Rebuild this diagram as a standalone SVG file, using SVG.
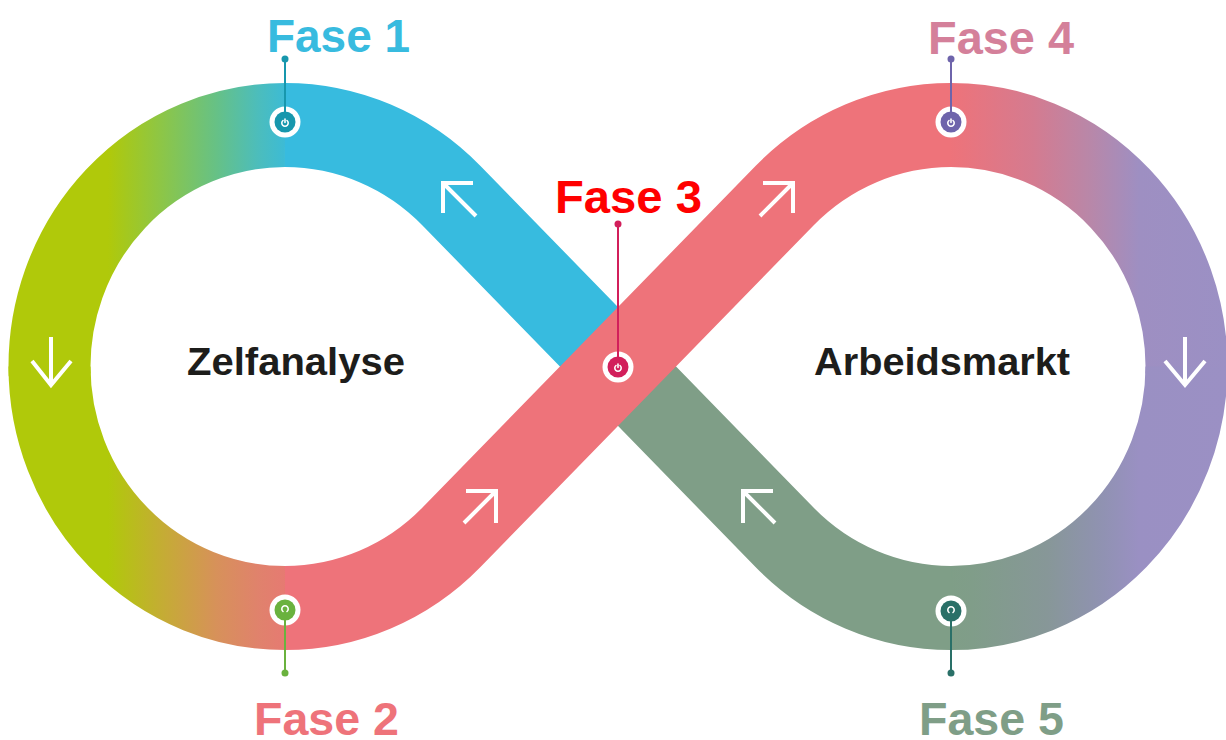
<svg xmlns="http://www.w3.org/2000/svg" width="1226" height="740" viewBox="0 0 1226 740">
<defs>
<style>
.band{fill:none;stroke-width:82;stroke-linecap:butt}
.arr{fill:none;stroke:#fff;stroke-width:4;stroke-linecap:butt;stroke-linejoin:miter}
.lbl{font-family:"Liberation Sans",Arial,sans-serif;font-weight:bold;font-size:47px}
.ctr{font-family:"Liberation Sans",Arial,sans-serif;font-weight:bold;font-size:38px;fill:#1d1d1b}
.ring{fill:#fff}
.ico{fill:none;stroke:#fff;stroke-width:1.6;stroke-linecap:round}
</style>
<linearGradient id="gTL" gradientUnits="userSpaceOnUse" x1="8" y1="0" x2="286" y2="0">
<stop offset="0" stop-color="#b0c90a"/>
<stop offset="0.36" stop-color="#b0c90a"/>
<stop offset="0.55" stop-color="#8dc646"/>
<stop offset="0.75" stop-color="#66c186"/>
<stop offset="0.9" stop-color="#4cbdbc"/>
<stop offset="1" stop-color="#3cbbd6"/>
</linearGradient>
<linearGradient id="gBL" gradientUnits="userSpaceOnUse" x1="8" y1="0" x2="286" y2="0">
<stop offset="0" stop-color="#b0c90a"/>
<stop offset="0.36" stop-color="#b0c90a"/>
<stop offset="0.55" stop-color="#c4ad33"/>
<stop offset="0.75" stop-color="#d7915a"/>
<stop offset="0.9" stop-color="#e0826c"/>
<stop offset="1" stop-color="#e67a72"/>
</linearGradient>
<linearGradient id="gTR" gradientUnits="userSpaceOnUse" x1="950" y1="0" x2="1228" y2="0">
<stop offset="0" stop-color="#ee737a"/>
<stop offset="0.05" stop-color="#ea747d"/>
<stop offset="0.3" stop-color="#d47b90"/>
<stop offset="0.5" stop-color="#b987a8"/>
<stop offset="0.68" stop-color="#9e8fc2"/>
<stop offset="1" stop-color="#9b90c4"/>
</linearGradient>
<linearGradient id="gBR" gradientUnits="userSpaceOnUse" x1="950" y1="0" x2="1228" y2="0">
<stop offset="0" stop-color="#7f9e87"/>
<stop offset="0.08" stop-color="#809d89"/>
<stop offset="0.35" stop-color="#879798"/>
<stop offset="0.55" stop-color="#9092b2"/>
<stop offset="0.68" stop-color="#9a90c3"/>
<stop offset="1" stop-color="#9b90c4"/>
</linearGradient>
</defs>
<rect width="1226" height="740" fill="#fff"/>
<g id="connectors" transform="matrix(1 0 0 1.0255 0 -9.35)">
<path class="band" stroke="url(#gTL)" d="M285,131 A235.5,235.5 0 0 0 49.64,374.7"/>
<path class="band" stroke="url(#gBL)" d="M49.5,366.5 A235.5,235.5 0 0 0 285,602"/>
<path class="band" stroke="url(#gTR)" d="M951,131 A235.5,235.5 0 0 1 1186.36,374.7"/>
<path class="band" stroke="url(#gBR)" d="M1186.5,366.5 A235.5,235.5 0 0 1 951,602"/>
<path class="band" stroke="#37bbdf" d="M285,131 A235.5,235.5 0 0 1 451.5,200 L624,372.5"/>
<path class="band" stroke="#7f9e87" d="M951,602 A235.5,235.5 0 0 1 784.5,533 L612,360.5"/>
<path class="band" stroke="#ee737a" d="M285,602 A235.5,235.5 0 0 0 451.5,533 L784.5,200 A235.5,235.5 0 0 1 951,131"/>
</g>
<g id="arrows">
<path class="arr" d="M443,213 L443,183 L473,183 M443,183 L476,216"/>
<path class="arr" d="M793,213 L793,183 L763,183 M793,183 L760,216"/>
<path class="arr" d="M466,491 L496,491 L496,523 M496,491 L464,523"/>
<path class="arr" d="M773,491 L743,491 L743,523 M743,491 L775,523"/>
<path class="arr" d="M51,337 L51,385 M32,361 L51,385 L71,361"/>
<path class="arr" d="M1185,337 L1185,385 M1165,361 L1185,385 L1205,361"/>
</g>
<g id="fase1">
<circle class="ring" cx="285" cy="122" r="15.5"/>
<circle cx="285" cy="122" r="10.5" fill="#1797ad"/>
<line x1="285" y1="59" x2="285" y2="112" stroke="#1797ad" stroke-width="2"/>
<circle cx="285" cy="59" r="3.5" fill="#1797ad"/>
<path class="ico" d="M283,120.5 A3.2,3.2 0 1 0 287,120.5 M285,119 L285,122.5"/>
<text class="lbl" x="267" y="52" fill="#38bbdf" textLength="143" lengthAdjust="spacingAndGlyphs">Fase 1</text>
</g>
<g id="fase2">
<circle class="ring" cx="285" cy="610" r="15.5"/>
<circle cx="285" cy="610" r="10.5" fill="#6ab23e"/>
<line x1="285" y1="620" x2="285" y2="673" stroke="#6ab23e" stroke-width="2"/>
<circle cx="285" cy="673" r="3.5" fill="#6ab23e"/>
<path class="ico" d="M283,611.5 A3.2,3.2 0 1 1 287,611.5"/>
<text class="lbl" x="254" y="735" fill="#ee737a" textLength="145" lengthAdjust="spacingAndGlyphs">Fase 2</text>
</g>
<g id="fase3">
<circle class="ring" cx="618" cy="367" r="15.5"/>
<circle cx="618" cy="367" r="10.5" fill="#d21f5b"/>
<line x1="618" y1="224" x2="618" y2="357" stroke="#d21f5b" stroke-width="2"/>
<circle cx="618" cy="224" r="3.5" fill="#d21f5b"/>
<path class="ico" d="M616,365.5 A3.2,3.2 0 1 0 620,365.5 M618,364 L618,367.5"/>
<text class="lbl" x="555" y="213" fill="#ff0000" textLength="147" lengthAdjust="spacingAndGlyphs">Fase 3</text>
</g>
<g id="fase4">
<circle class="ring" cx="951" cy="122" r="15.5"/>
<circle cx="951" cy="122" r="10.5" fill="#6e64ab"/>
<line x1="951" y1="59" x2="951" y2="112" stroke="#6e64ab" stroke-width="2"/>
<circle cx="951" cy="59" r="3.5" fill="#6e64ab"/>
<path class="ico" d="M949,120.5 A3.2,3.2 0 1 0 953,120.5 M951,119 L951,122.5"/>
<text class="lbl" x="928" y="54" fill="#d4809a" textLength="146" lengthAdjust="spacingAndGlyphs">Fase 4</text>
</g>
<g id="fase5">
<circle class="ring" cx="951" cy="611" r="15.5"/>
<circle cx="951" cy="611" r="10.5" fill="#2a7068"/>
<line x1="951" y1="621" x2="951" y2="673" stroke="#2a7068" stroke-width="2"/>
<circle cx="951" cy="673" r="3.5" fill="#2a7068"/>
<path class="ico" d="M949,612.5 A3.2,3.2 0 1 1 953,612.5"/>
<text class="lbl" x="919" y="735" fill="#7f9e87" textLength="145" lengthAdjust="spacingAndGlyphs">Fase 5</text>
</g>
<g id="zelfanalyse">
<text class="ctr" x="187" y="375" textLength="218" lengthAdjust="spacingAndGlyphs">Zelfanalyse</text>
</g>
<g id="arbeidsmarkt">
<text class="ctr" x="814" y="375" textLength="256" lengthAdjust="spacingAndGlyphs">Arbeidsmarkt</text>
</g>
</svg>
